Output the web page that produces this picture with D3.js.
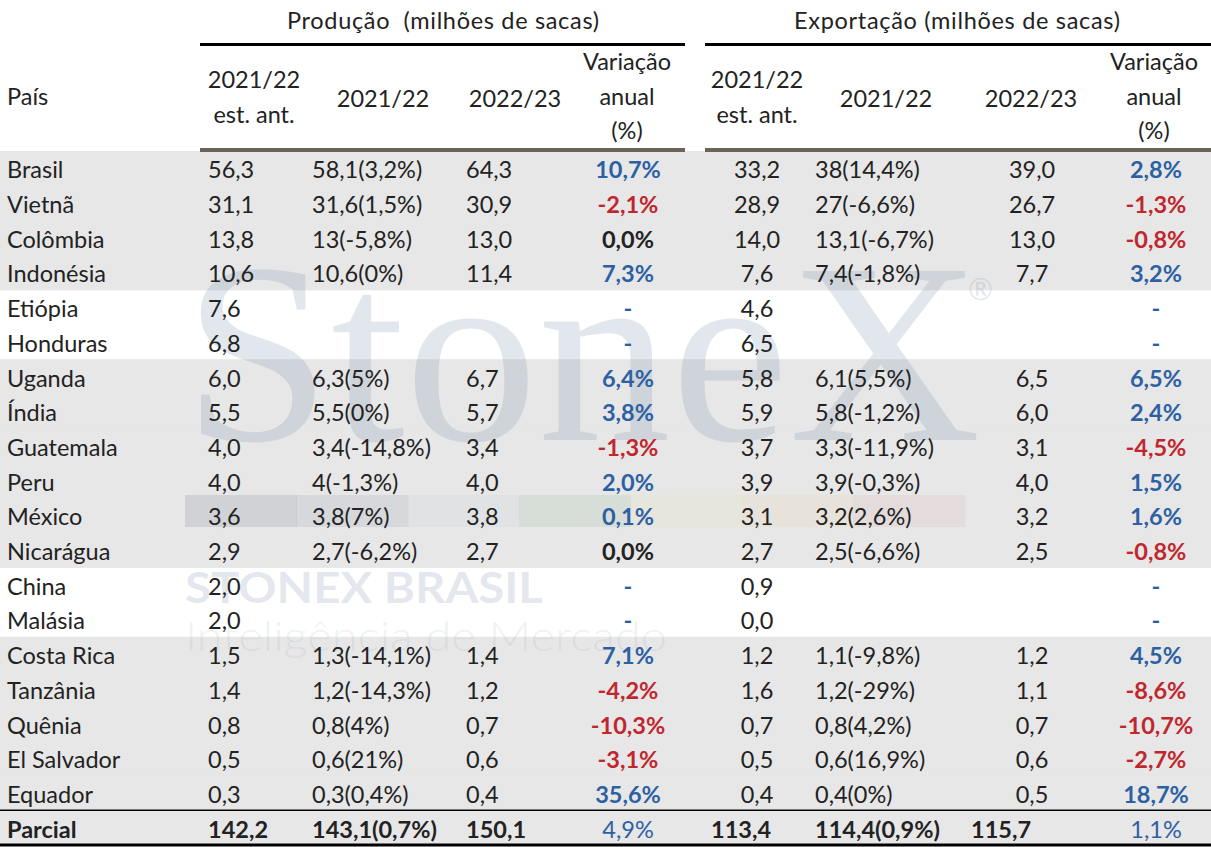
<!DOCTYPE html>
<html>
<head>
<meta charset="utf-8">
<script src="https://cdn.jsdelivr.net/npm/d3@7"></script>
<style>
  body { margin: 0; background: #fff; }
  svg { display: block; font-family: Lato, "Noto Sans", sans-serif; }
</style>
</head>
<body>
<script>
// rows of the table
var countries = ["Brasil","Vietnã","Colômbia","Indonésia","Etiópia","Honduras","Uganda","Índia",
  "Guatemala","Peru","México","Nicarágua","China","Malásia","Costa Rica","Tanzânia","Quênia",
  "El Salvador","Equador","Parcial"];

// produção (milhões de sacas)
var prodEst  = [56.3,31.1,13.8,10.6,7.6,6.8,6.0,5.5,4.0,4.0,3.6,2.9,2.0,2.0,1.5,1.4,0.8,0.5,0.3,142.2];
var prodPrev = [58.1,31.6,13,10.6,null,null,6.3,5.5,3.4,4,3.8,2.7,null,null,1.3,1.2,0.8,0.6,0.3,143.1];
var prodPrevPct = [3.2,1.5,-5.8,0,null,null,5,0,-14.8,-1.3,7,-6.2,null,null,-14.1,-14.3,4,21,0.4,0.7];
var prodCur  = [64.3,30.9,13.0,11.4,null,null,6.7,5.7,3.4,4.0,3.8,2.7,null,null,1.4,1.2,0.7,0.6,0.4,150.1];
var prodVar  = [10.7,-2.1,0.0,7.3,null,null,6.4,3.8,-1.3,2.0,0.1,0.0,null,null,7.1,-4.2,-10.3,-3.1,35.6,4.9];

// exportação (milhões de sacas)
var expEst  = [33.2,28.9,14.0,7.6,4.6,6.5,5.8,5.9,3.7,3.9,3.1,2.7,0.9,0.0,1.2,1.6,0.7,0.5,0.4,113.4];
var expPrev = [38,27,13.1,7.4,null,null,6.1,5.8,3.3,3.9,3.2,2.5,null,null,1.1,1.2,0.8,0.6,0.4,114.4];
var expPrevPct = [14.4,-6.6,-6.7,-1.8,null,null,5.5,-1.2,-11.9,-0.3,2.6,-6.6,null,null,-9.8,-29,4.2,16.9,0,0.9];
var expCur  = [39.0,26.7,13.0,7.7,null,null,6.5,6.0,3.1,4.0,3.2,2.5,null,null,1.2,1.1,0.7,0.6,0.5,115.7];
var expVar  = [2.8,-1.3,-0.8,3.2,null,null,6.5,2.4,-4.5,1.5,1.6,-0.8,null,null,4.5,-8.6,-10.7,-2.7,18.7,1.1];

var groupTitles = ["Produção\u00a0 (milhões de sacas)", "Exportação (milhões de sacas)"];
var colHeaders = [["2021/22","est. ant."],["2021/22"],["2022/23"],["Variação","anual","(%)"]];

var W = 1211, H = 847;
var blue = "#2d60a3", red = "#c0262d", ink = "#222";

var loc = d3.formatLocale({decimal: ",", thousands: ".", grouping: [3], currency: ["", ""], minus: "-"});
var f1 = loc.format(".1f"), fTrim = loc.format(".1~f");

var svg = d3.select("body").append("svg").attr("width", W).attr("height", H);

var y = d3.scaleBand().domain(countries).range([151, 845]);
var bw = y.bandwidth();

// row shading: rows with data are grey
svg.append("g").selectAll("rect")
  .data(countries.filter(function(c, i){ return prodPrev[i] !== null; }))
  .join("rect")
  .attr("x", 0).attr("width", W)
  .attr("y", function(d){ return y(d); })
  .attr("height", bw + 0.5)
  .attr("fill", "#e7e7e7");

// watermark
var wm = svg.append("g").attr("pointer-events", "none").attr("fill", "#8597b2").attr("fill-opacity", 0.24);
wm.append("text").attr("x", 183).attr("y", 440)
  .attr("font-family", "'Liberation Serif', 'DejaVu Serif', serif")
  .attr("font-size", 258).attr("textLength", 798).attr("lengthAdjust", "spacingAndGlyphs")
  .text("StoneX");
wm.append("text").attr("x", 968).attr("y", 300).attr("font-size", 30).text("®");
var bandColors = ["#1d2f52","#4f6587","#a9bdd6","#5f9a62","#efe08a","#f1c27a","#d6868a"];
var bx = d3.scaleBand().domain(d3.range(bandColors.length)).range([185, 965]);
svg.append("g").selectAll("rect").data(bandColors).join("rect")
  .attr("x", function(d, i){ return bx(i); }).attr("width", bx.bandwidth() + 0.5)
  .attr("y", 495).attr("height", 32)
  .attr("fill", function(d){ return d; }).attr("fill-opacity", 0.11);
wm.append("text").attr("x", 185).attr("y", 603)
  .attr("font-size", 42).attr("font-weight", "bold").attr("textLength", 358)
  .attr("lengthAdjust", "spacingAndGlyphs").text("STONEX BRASIL");
wm.append("text").attr("x", 185).attr("y", 651)
  .attr("font-size", 42).attr("font-weight", 300).attr("textLength", 482)
  .attr("lengthAdjust", "spacingAndGlyphs").attr("fill-opacity", 0.14).text("Inteligência de Mercado");

// header
var head = svg.append("g").attr("fill", ink).attr("font-size", 23.5);
var sections = [
  {title: groupTitles[0], cx: 443, x0: 200, x1: 685, cols: [254, 383, 515, 627]},
  {title: groupTitles[1], cx: 957, x0: 705, x1: 1211, cols: [757, 886, 1031, 1154]}
];
sections.forEach(function(s){
  head.append("text").attr("x", s.cx).attr("y", 29).attr("text-anchor", "middle")
    .attr("textLength", s.cx === 443 ? 312 : 326).text(s.title);
  svg.append("line").attr("x1", s.x0).attr("x2", s.x1).attr("y1", 44.5).attr("y2", 44.5)
    .attr("stroke", "#000").attr("stroke-width", 3);
  svg.append("line").attr("x1", s.x0).attr("x2", s.x1).attr("y1", 150).attr("y2", 150)
    .attr("stroke", "#6c635b").attr("stroke-width", 4);
  colHeaders.forEach(function(lines, j){
    var top = lines.length === 3 ? 70 : (lines.length === 2 ? 88 : 107);
    var t = head.append("text").attr("x", s.cols[j]).attr("text-anchor", "middle");
    lines.forEach(function(l, k){
      t.append("tspan").attr("x", s.cols[j]).attr("y", top + k * (lines.length === 3 ? 34.5 : 35)).text(l);
    });
  });
});
head.append("text").attr("x", 7).attr("y", 105).text("País");

// body
var last = countries.length - 1;
function prevText(v, p){ return v === null ? "" : fTrim(v) + "(" + fTrim(p) + "%)"; }
function varText(v){ return v === null ? "-" : f1(v) + "%"; }
function varColor(v){ return v === null || v > 0 ? blue : (v < 0 ? red : ink); }

var columns = [
  {x: 208, anchor: "start", text: function(i){ return f1(prodEst[i]); }},
  {x: 312, anchor: "start", text: function(i){ return prevText(prodPrev[i], prodPrevPct[i]); }},
  {x: 466, anchor: "start", text: function(i){ return prodCur[i] === null ? "" : f1(prodCur[i]); }},
  {x: 628, anchor: "middle", isVar: true, v: prodVar},
  {x: 757, xLast: 711, anchor: "middle", text: function(i){ return f1(expEst[i]); }},
  {x: 815, anchor: "start", text: function(i){ return prevText(expPrev[i], expPrevPct[i]); }},
  {x: 1032, xLast: 971, anchor: "middle", text: function(i){ return expCur[i] === null ? "" : f1(expCur[i]); }},
  {x: 1156, anchor: "middle", isVar: true, v: expVar}
];

var rows = svg.append("g").attr("font-size", 23.5)
  .selectAll("g").data(countries).join("g")
  .attr("transform", function(d){ return "translate(0," + (y(d) + bw / 2 + 10) + ")"; });

rows.append("text").attr("x", 7).attr("fill", ink)
  .attr("font-weight", function(d, i){ return i === last ? "bold" : null; })
  .text(function(d){ return d; });

columns.forEach(function(c){
  rows.append("text")
    .attr("x", function(d, i){ return i === last && c.xLast ? c.xLast : c.x; })
    .attr("text-anchor", function(d, i){ return i === last && c.xLast ? "start" : c.anchor; })
    .attr("fill", function(d, i){ return c.isVar ? varColor(c.v[i]) : ink; })
    .attr("font-weight", function(d, i){
      if (c.isVar) return i === last ? null : "bold";
      return i === last ? "bold" : null;
    })
    .text(function(d, i){ return c.isVar ? varText(c.v[i]) : c.text(i); });
});

// total rules
svg.append("line").attr("x1", 0).attr("x2", W).attr("y1", y("Parcial")).attr("y2", y("Parcial"))
  .attr("stroke", "#000").attr("stroke-width", 1.5);
svg.append("line").attr("x1", 0).attr("x2", W).attr("y1", 845).attr("y2", 845)
  .attr("stroke", "#000").attr("stroke-width", 3);
</script>
</body>
</html>
